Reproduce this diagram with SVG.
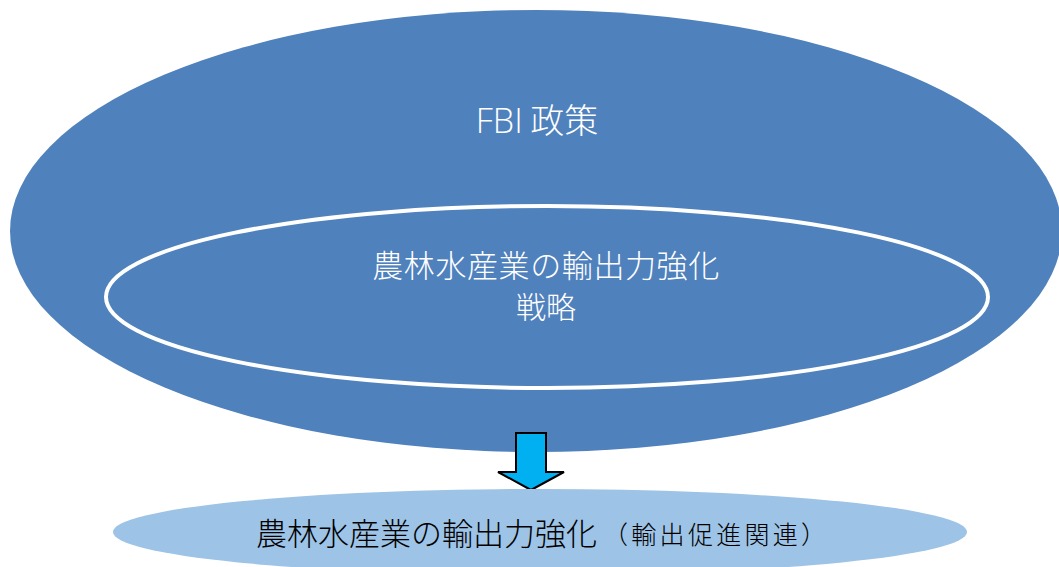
<svg xmlns="http://www.w3.org/2000/svg" width="1059" height="567" viewBox="0 0 1059 567">
<style>
.jp{font-family:"Noto Sans CJK JP","Noto Sans",sans-serif;font-weight:300}
.w{fill:#ffffff}
.k{fill:#000000}
</style>
<rect width="1059" height="567" fill="#ffffff"/>
<g id="fbi">
<ellipse cx="536" cy="231" rx="526" ry="221" fill="#4f81bd"/>
<text x="537" y="133" class="jp w" font-size="34" text-anchor="middle"><tspan font-family="'Open Sans','Noto Sans',sans-serif">FBI</tspan> 政策</text>
</g>
<g id="strategy">
<ellipse cx="547" cy="297" rx="441" ry="91" fill="none" stroke="#ffffff" stroke-width="4"/>
<text x="546" y="277" class="jp w" font-size="31" letter-spacing="0.6" text-anchor="middle">農林水産業の輸出力強化</text>
<text x="546" y="318" class="jp w" font-size="30" text-anchor="middle">戦略</text>
</g>
<g id="connectors">
<path d="M516,433 L546,433 L546,472 L564,472 L531,490 L498,472 L516,472 Z" fill="#00b0f0" stroke="#000000" stroke-width="2" stroke-linejoin="miter"/>
</g>
<g id="export">
<ellipse cx="540" cy="532" rx="427" ry="43" fill="#9dc3e6"/>
<text x="256" y="545" class="jp k" font-size="31">農林水産業の輸出力強化</text>
<text x="603" y="544" class="jp k" font-size="25" letter-spacing="3.3">（輸出促進関連）</text>
</g>
</svg>
